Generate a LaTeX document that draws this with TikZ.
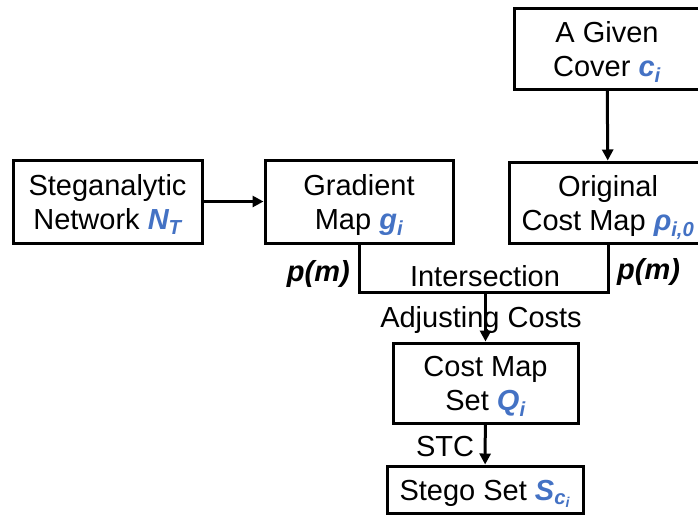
\documentclass[tikz,border=0pt]{standalone}
\usepackage{fontspec}
\setmainfont{Liberation Sans}
\usepackage{tikz}
\usetikzlibrary{arrows.meta,positioning}
\usepackage{xcolor}
\definecolor{varblue}{RGB}{68,114,196}
\newcommand{\bvar}[2]{{\color{varblue}\bfseries\itshape #1\textsubscript{#2}}}
\newcommand{\boxtext}[1]{\raisebox{-4pt}[\height][\depth]{\begin{tabular}{@{}c@{}}#1\end{tabular}}}
\tikzstyle{arrow} = [line width=3pt,->,>={Triangle[length=11pt,width=11pt]}]
\tikzstyle{link} = [line width=3pt]
\tikzstyle{stagebox} = [rectangle, draw=black, line width=3pt, inner sep=0pt, font=\fontsize{29}{34}\selectfont]
\tikzstyle{lbl} = [inner sep=0pt, font=\fontsize{29}{34}\selectfont]

\begin{document}
\begin{tikzpicture}[x=1pt, y=-1pt]
\useasboundingbox (0,0) rectangle (698,515);
\clip (0,0) rectangle (698,515);

% Cover side
\node[stagebox, minimum width=186pt, minimum height=81pt] (cover) at (607,48.5) {\boxtext{A Given\\Cover \bvar{c}{i}}};
\node[stagebox, minimum width=198pt, minimum height=81pt] (origcost) at (608,202.5) {\boxtext{Original\\Cost Map \bvar{ρ}{i,0}}};

% Network side
\node[stagebox, minimum width=189pt, minimum height=83pt] (stegnet) at (107.5,201.5) {\boxtext{Steganalytic\\Network \bvar{N}{T}}};
\node[stagebox, minimum width=188pt, minimum height=83pt] (gradmap) at (359,201.5) {\boxtext{Gradient\\Map \bvar{g}{i}}};

% Output
\node[stagebox, minimum width=185pt, minimum height=80pt] (costset) at (485.5,383) {\boxtext{Cost Map\\Set \bvar{Q}{i}}};
\node[stagebox, minimum width=196pt, minimum height=47pt] (stegoset) at (485,489.5) {\boxtext{Stego Set {\color{varblue}\bfseries\itshape S\textsubscript{c\textsubscript{i}}}}};

% Connections
\coordinate (gleft) at (gradmap.south |- 0,292);
\coordinate (oright) at (origcost.south |- 0,292);
\coordinate (junction) at (costset.north |- 0,292);
\draw[arrow] (cover) -- (origcost);
\draw[arrow] (stegnet) -- (gradmap);
\draw[link] (gradmap.south) -- (gleft) -- (oright) -- (origcost.south);
\draw[arrow] (junction) -- (costset);
\draw[arrow] (costset) -- (stegoset);

% Labels
\node[lbl, anchor=east] (pmleft) at (350,274) {\bfseries\itshape p(m)};
\node[lbl, anchor=west] (pmright) at (617,272) {\bfseries\itshape p(m)};
\node[lbl] (inter) at (485,276) {Intersection};
\node[lbl] (adjust) at (481,320) {Adjusting Costs};
\node[lbl] (stc) at (445,447) {STC};
\end{tikzpicture}
\end{document}
